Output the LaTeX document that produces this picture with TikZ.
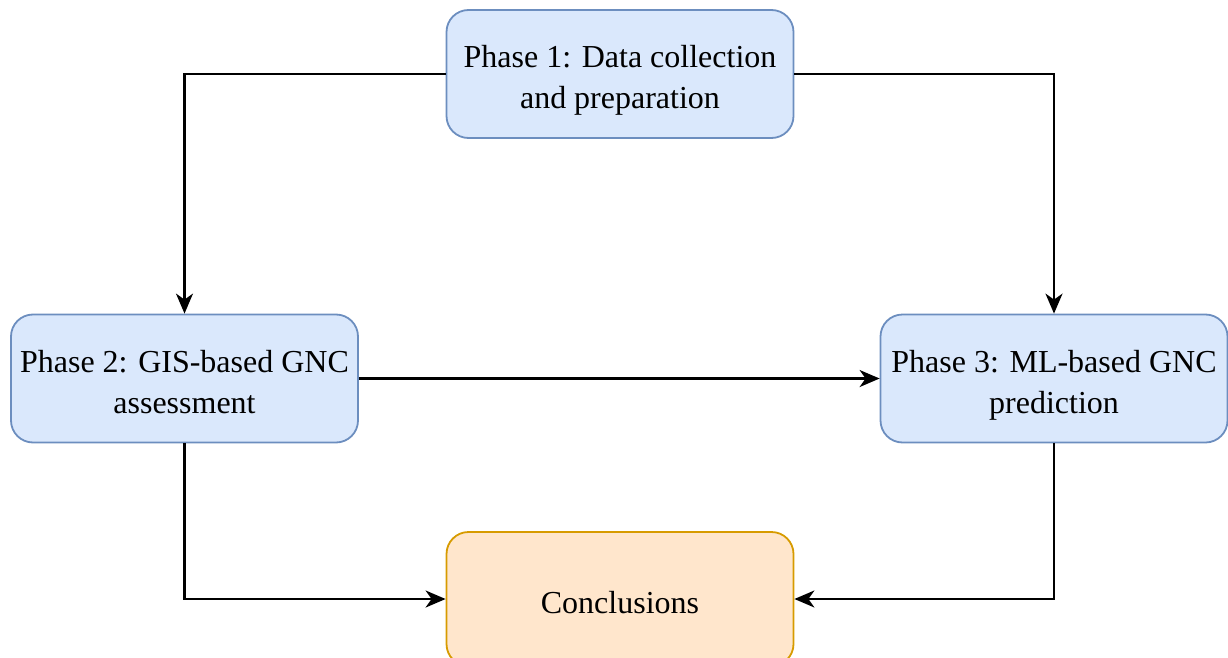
\documentclass[tikz,border=0pt]{standalone}
\usepackage{fontspec}
\setmainfont{Liberation Serif}
\usetikzlibrary{arrows.meta}
\definecolor{bfill}{HTML}{DAE8FC}
\definecolor{bdraw}{HTML}{6C8EBF}
\definecolor{ofill}{HTML}{FFE6CC}
\definecolor{odraw}{HTML}{D79B00}
\newcommand{\boxtext}[1]{\raisebox{0pt}[\dimexpr\height+6pt\relax][\dimexpr\depth-6pt\relax]{\begin{tabular}{@{}c@{}}#1\end{tabular}}}
\tikzset{
  phasebox/.style={draw=bdraw, fill=bfill, line width=1.8pt, rounded corners=22pt,
    minimum width=347pt, minimum height=128pt, align=center, inner sep=0pt,
    font=\fontsize{32}{41}\selectfont},
  endbox/.style={phasebox, draw=odraw, fill=ofill, minimum height=134pt},
  conn/.style={line width=2.2pt, -{Stealth[length=20pt,width=17pt,inset=6pt]}}
}
\begin{document}
\begin{tikzpicture}[x=1pt,y=-1pt]
\useasboundingbox (0,0) rectangle (1228,658);
\node[phasebox] (p1) at (620,74) {\boxtext{Phase 1: Data collection\\and preparation}};
\node[phasebox] (p2) at (184.5,378.5) {\boxtext{Phase 2: GIS-based GNC\\assessment}};
\node[phasebox] (p3) at (1054,378.5) {\boxtext{Phase 3: ML-based GNC\\prediction}};
\node[endbox] (c) at (620,599) {\boxtext{Conclusions}};
\draw[conn] (p1.west) -| (p2.north);
\draw[conn] (p1.east) -| (p3.north);
\draw[conn] (p2.east) -- (p3.west);
\draw[conn] (p2.south) |- (c.west);
\draw[conn] (p3.south) |- (c.east);
\end{tikzpicture}
\end{document}
